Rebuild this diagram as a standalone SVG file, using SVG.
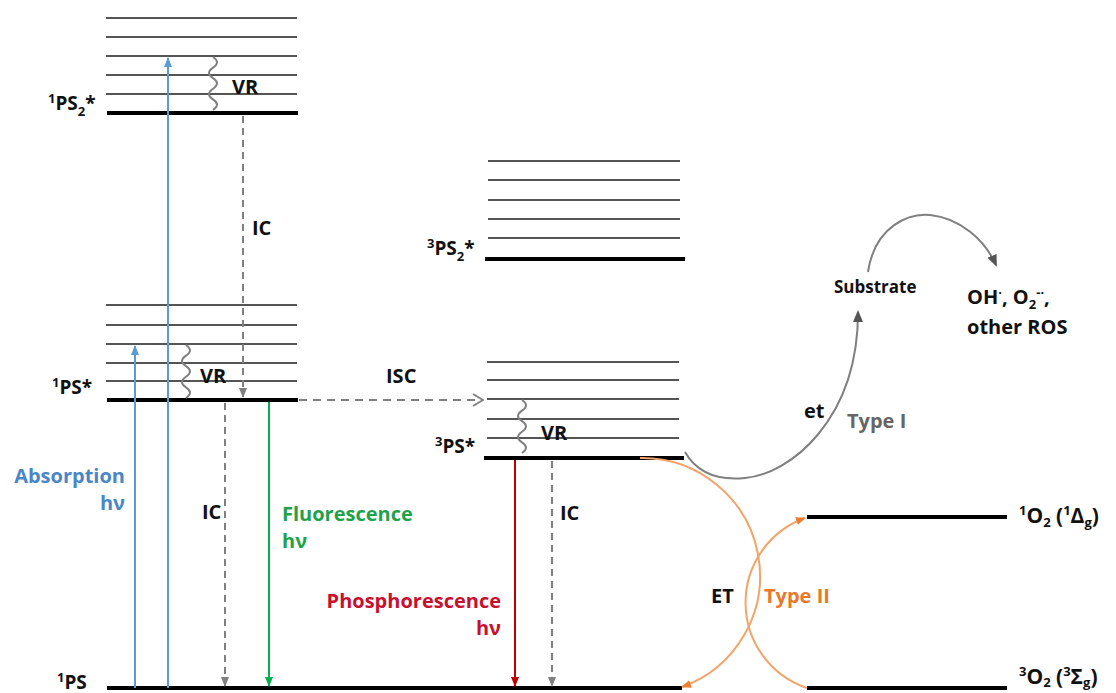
<svg xmlns="http://www.w3.org/2000/svg" width="1116" height="693" viewBox="0 0 1116 693">
  <style>
    .lvl { stroke: #555555; stroke-width: 2; }
    .gnd { stroke: #000000; stroke-width: 4; }
    .lab { font-family: "Open Sans", Lato, "DejaVu Sans", sans-serif; font-weight: bold; font-size: 20px; fill: #111111; }
    .st { font-size: 19px; }
    .ox { font-size: 21px; }
    .sm { font-size: 13px; }
    .sub { font-size: 17px; }
    .wave { fill: none; stroke: #808080; stroke-width: 2; }
    .dash { fill: none; stroke: #808080; stroke-width: 2; stroke-dasharray: 7 5; }
  </style>
  <defs>
    <marker id="ah-blue" markerWidth="10" markerHeight="10" refX="9" refY="5" orient="auto" markerUnits="userSpaceOnUse"><path d="M0,1 L10,5 L0,9 Z" fill="#5B9BD5"/></marker>
    <marker id="ah-green" markerWidth="10" markerHeight="10" refX="9" refY="5" orient="auto" markerUnits="userSpaceOnUse"><path d="M0,1 L10,5 L0,9 Z" fill="#00B050"/></marker>
    <marker id="ah-red" markerWidth="10" markerHeight="10" refX="9" refY="5" orient="auto" markerUnits="userSpaceOnUse"><path d="M0,1 L10,5 L0,9 Z" fill="#C00000"/></marker>
    <marker id="ah-gray" markerWidth="10" markerHeight="10" refX="9" refY="5" orient="auto" markerUnits="userSpaceOnUse"><path d="M0,1 L10,5 L0,9 Z" fill="#808080"/></marker>
    <marker id="ah-dark" markerWidth="12" markerHeight="12" refX="10" refY="6" orient="auto" markerUnits="userSpaceOnUse"><path d="M0,1 L12,6 L0,11 Z" fill="#555555"/></marker>
    <marker id="ah-orange" markerWidth="10" markerHeight="10" refX="9" refY="5" orient="auto" markerUnits="userSpaceOnUse"><path d="M0,1 L10,5 L0,9 Z" fill="#ED7D31"/></marker>
    <marker id="ah-open" markerWidth="12" markerHeight="14" refX="11" refY="7" orient="auto" markerUnits="userSpaceOnUse"><path d="M1,1 L11,7 L1,13" fill="none" stroke="#808080" stroke-width="2"/></marker>
  </defs>
  <rect width="1116" height="693" fill="#ffffff"/>

  <!-- singlet S2 manifold -->
  <g id="node-1PS2">
    <line class="lvl" x1="106" y1="18" x2="297" y2="18" stroke="#8a8a8a"/>
    <line class="lvl" x1="106" y1="37" x2="297" y2="37"/>
    <line class="lvl" x1="106" y1="56" x2="297" y2="56"/>
    <line class="lvl" x1="106" y1="75" x2="297" y2="75"/>
    <line class="lvl" x1="106" y1="94" x2="297" y2="94"/>
    <line class="gnd" x1="107" y1="113" x2="298" y2="113"/>
    <text class="lab st" x="48" y="110"><tspan class="sm" dy="-7">1</tspan><tspan dy="7">PS</tspan><tspan class="sm" dy="6">2</tspan><tspan dy="-6">*</tspan></text>
  </g>

  <!-- singlet S1 manifold -->
  <g id="node-1PS1">
    <line class="lvl" x1="106" y1="305" x2="297" y2="305"/>
    <line class="lvl" x1="106" y1="325" x2="297" y2="325"/>
    <line class="lvl" x1="106" y1="344" x2="297" y2="344"/>
    <line class="lvl" x1="106" y1="363" x2="297" y2="363"/>
    <line class="lvl" x1="106" y1="381" x2="297" y2="381"/>
    <line class="gnd" x1="107" y1="400" x2="298" y2="400"/>
    <text class="lab st" x="52" y="394"><tspan class="sm" dy="-7">1</tspan><tspan dy="7">PS*</tspan></text>
  </g>

  <!-- ground state -->
  <g id="node-1PS0">
    <line class="gnd" x1="107" y1="688" x2="682" y2="688"/>
    <text class="lab st" x="57" y="689"><tspan class="sm" dy="-7">1</tspan><tspan dy="7">PS</tspan></text>
  </g>

  <!-- triplet T2 manifold -->
  <g id="node-3PS2">
    <line class="lvl" x1="488" y1="161" x2="680" y2="161"/>
    <line class="lvl" x1="488" y1="180" x2="680" y2="180"/>
    <line class="lvl" x1="488" y1="200" x2="680" y2="200"/>
    <line class="lvl" x1="488" y1="219" x2="680" y2="219"/>
    <line class="lvl" x1="488" y1="238" x2="680" y2="238"/>
    <line class="gnd" x1="485" y1="259" x2="685" y2="259"/>
    <text class="lab st" x="427" y="255"><tspan class="sm" dy="-7">3</tspan><tspan dy="7">PS</tspan><tspan class="sm" dy="6">2</tspan><tspan dy="-6">*</tspan></text>
  </g>

  <!-- triplet T1 manifold -->
  <g id="node-3PS1">
    <line class="lvl" x1="487" y1="362" x2="679" y2="362"/>
    <line class="lvl" x1="487" y1="380" x2="679" y2="380"/>
    <line class="lvl" x1="487" y1="399" x2="679" y2="399"/>
    <line class="lvl" x1="487" y1="419" x2="679" y2="419"/>
    <line class="lvl" x1="487" y1="438" x2="679" y2="438"/>
    <line class="gnd" x1="484" y1="458" x2="684" y2="458"/>
    <text class="lab st" x="435" y="453"><tspan class="sm" dy="-7">3</tspan><tspan dy="7">PS*</tspan></text>
  </g>

  <!-- oxygen levels -->
  <g id="node-1O2">
    <line class="gnd" x1="807" y1="517" x2="1007" y2="517"/>
    <text class="lab ox" x="1019" y="523"><tspan class="sm" dy="-8">1</tspan><tspan dy="8">O</tspan><tspan class="sm" dy="4">2</tspan><tspan dy="-4"> (</tspan><tspan class="sm" dy="-8">1</tspan><tspan dy="8">Δ</tspan><tspan class="sm" dy="4">g</tspan><tspan dy="-4">)</tspan></text>
  </g>
  <g id="node-3O2">
    <line class="gnd" x1="807" y1="688" x2="1007" y2="688"/>
    <text class="lab ox" x="1019" y="684"><tspan class="sm" dy="-8">3</tspan><tspan dy="8">O</tspan><tspan class="sm" dy="3">2</tspan><tspan dy="-3"> (</tspan><tspan class="sm" dy="-8">3</tspan><tspan dy="8">Σ</tspan><tspan class="sm" dy="3">g</tspan><tspan dy="-3">)</tspan></text>
  </g>

  <g id="node-substrate">
    <text class="lab sub" x="834" y="293">Substrate</text>
  </g>
  <g id="node-ros">
    <text class="lab" x="967" y="304">OH<tspan class="sm" dy="-7">·</tspan><tspan dy="7">, O</tspan><tspan class="sm" dy="5">2</tspan><tspan class="sm" dy="-12">-·</tspan><tspan dy="7">,</tspan></text>
    <text class="lab" x="967" y="334">other ROS</text>
  </g>

  <!-- transitions -->
  <g id="connectors">
    <!-- absorption -->
    <line x1="135" y1="688" x2="135" y2="346" stroke="#5B9BD5" stroke-width="2" marker-end="url(#ah-blue)"/>
    <line x1="168" y1="688" x2="168" y2="58" stroke="#5B9BD5" stroke-width="2" marker-end="url(#ah-blue)"/>
    <text class="lab" x="125" y="483" text-anchor="end" style="fill:#4A86C8">Absorption</text>
    <text class="lab" x="125" y="510" text-anchor="end" style="fill:#4A86C8">hν</text>

    <!-- vibrational relaxation -->
    <path class="wave" d="M213,57 q8,5 0,10.6 t0,10.6 t0,10.6 t0,10.6 t0,10.6"/>
    <text class="lab" x="232" y="94">VR</text>
    <path class="wave" d="M186,345 q8,5 0,10.6 t0,10.6 t0,10.6 t0,10.6 t0,10.6"/>
    <text class="lab" x="200" y="383">VR</text>
    <path class="wave" d="M522,400 q8,5 0,10.6 t0,10.6 t0,10.6 t0,10.6 t0,10.6"/>
    <text class="lab" x="541" y="440">VR</text>

    <!-- internal conversion -->
    <line class="dash" x1="243" y1="116" x2="243" y2="397" marker-end="url(#ah-gray)"/>
    <text class="lab" x="252" y="235">IC</text>
    <line class="dash" x1="225" y1="403" x2="225" y2="686" marker-end="url(#ah-gray)"/>
    <text class="lab" x="202" y="519">IC</text>
    <line class="dash" x1="552" y1="461" x2="552" y2="686" marker-end="url(#ah-gray)"/>
    <text class="lab" x="560" y="520">IC</text>

    <!-- fluorescence -->
    <line x1="269" y1="402" x2="269" y2="686" stroke="#00B050" stroke-width="2" marker-end="url(#ah-green)"/>
    <text class="lab" x="282" y="521" style="fill:#1FA24A">Fluorescence</text>
    <text class="lab" x="282" y="548" style="fill:#1FA24A">hν</text>

    <!-- intersystem crossing -->
    <line x1="299" y1="400" x2="483" y2="400" stroke="#808080" stroke-width="2" stroke-dasharray="8 6" marker-end="url(#ah-open)"/>
    <text class="lab" x="386" y="383">ISC</text>

    <!-- phosphorescence -->
    <line x1="515" y1="460" x2="515" y2="686" stroke="#C00000" stroke-width="2" marker-end="url(#ah-red)"/>
    <text class="lab" x="501" y="608" text-anchor="end" style="fill:#C8102E">Phosphorescence</text>
    <text class="lab" x="501" y="635" text-anchor="end" style="fill:#C8102E">hν</text>

    <!-- type I pathway -->
    <path d="M685,452 C700,478 725,480 745,478 C790,474 858,420 858,312" fill="none" stroke="#7F7F7F" stroke-width="2" marker-end="url(#ah-dark)"/>
    <text class="lab" x="804" y="418">et</text>
    <text class="lab" x="847" y="428" style="fill:#666666">Type I</text>
    <path d="M868,272 C875,225 910,213 930,215 C960,218 985,240 996,265" fill="none" stroke="#7F7F7F" stroke-width="2" marker-end="url(#ah-dark)"/>

    <!-- type II pathway -->
    <path d="M640,458 A118,118 0 0 1 682,687" fill="none" stroke="#F2A46B" stroke-width="2" marker-end="url(#ah-orange)"/>
    <path d="M807,688 A90,90 0 0 1 805,518" fill="none" stroke="#F2A46B" stroke-width="2" marker-end="url(#ah-orange)"/>
    <text class="lab" x="711" y="603">ET</text>
    <text class="lab" x="764" y="603" style="fill:#E8792B">Type II</text>
  </g>
</svg>
